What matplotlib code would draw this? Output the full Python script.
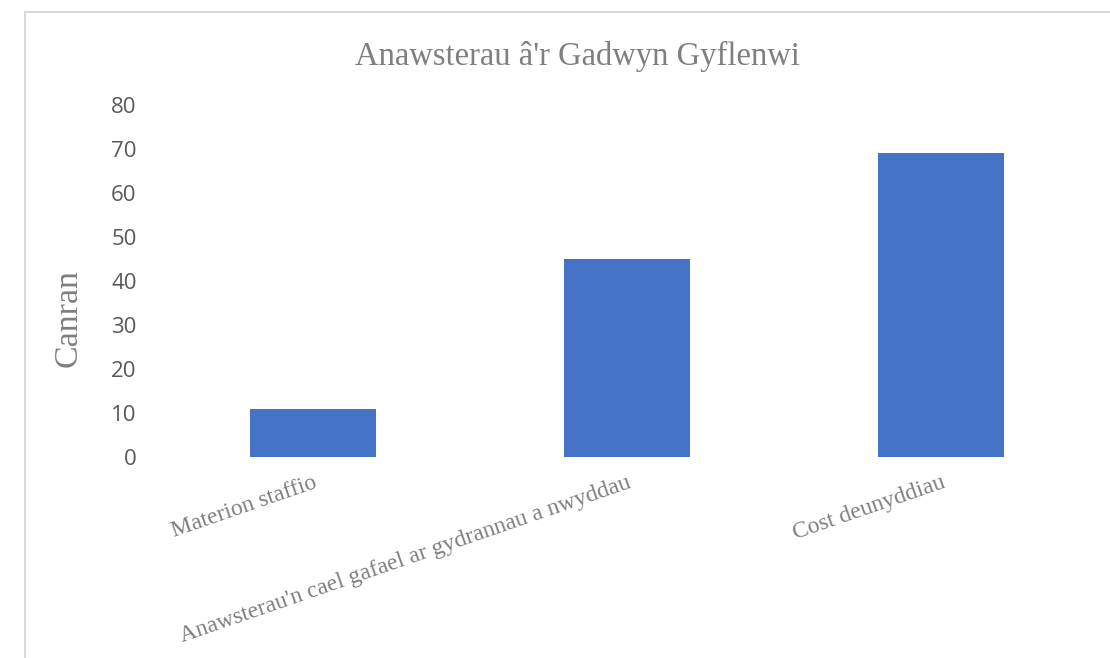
import matplotlib
matplotlib.use("Agg")
import matplotlib.pyplot as plt
from matplotlib.lines import Line2D

categories = ["Materion staffio",
              "Anawsterau'n cael gafael ar gydrannau a nwyddau",
              "Cost deunyddiau"]
values = [11, 45, 69]
yticks = [0, 10, 20, 30, 40, 50, 60, 70, 80]
title = "Anawsterau â'r Gadwyn Gyflenwi"
ylabel = "Canran"

fig = plt.figure(figsize=(11.1, 6.58), dpi=100)
ax = fig.add_axes([156/1110, 1-457/658, (1098-156)/1110, (457-105)/658])

x = list(range(len(categories)))
ax.bar(x, values, width=0.4, color="#4472C4")
ax.set_xlim(-0.5, len(categories)-0.5)
ax.set_ylim(0, 80)
ax.set_yticks(yticks)
ax.set_yticklabels([str(v) for v in yticks], fontfamily="Open Sans", fontsize=16, color="#595959")
ax.tick_params(axis="y", length=0, pad=14)
ax.tick_params(axis="x", length=0, pad=11)
ax.set_xticks(x)
ax.set_xticklabels(categories, rotation=19, ha="right", rotation_mode="anchor",
                   fontfamily="Liberation Serif", fontsize=17, color="#7f7f7f")
for s in ax.spines.values():
    s.set_visible(False)

fig.text(577/1110, 1-56/658, title, ha="center", va="center",
         fontfamily="Liberation Serif", fontsize=23.5, color="#7f7f7f")
fig.text(68/1110, 1-318/658, ylabel, ha="center", va="center", rotation=90,
         fontfamily="Liberation Serif", fontsize=24.5, color="#7f7f7f")

fig.add_artist(Line2D([25/1110, 25/1110], [0, 1-12/658], transform=fig.transFigure,
                      color="#d9d9d9", linewidth=1.5))
fig.add_artist(Line2D([25/1110, 1], [1-12/658, 1-12/658], transform=fig.transFigure,
                      color="#d9d9d9", linewidth=1.5))

fig.savefig("out.png", dpi=100)
